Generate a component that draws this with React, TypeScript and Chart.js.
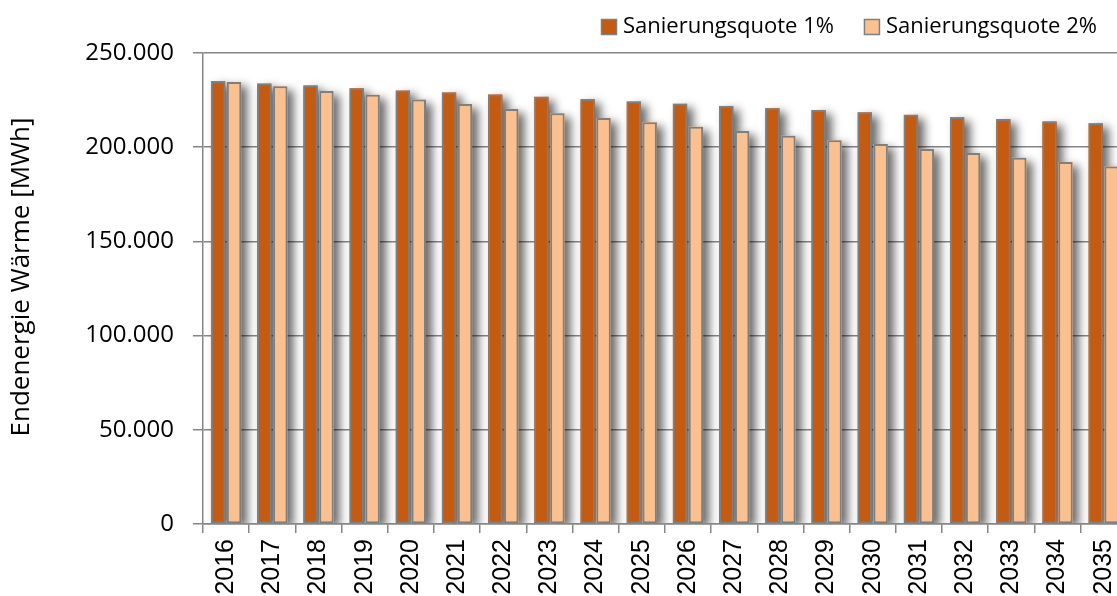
import React, { useEffect, useRef } from "react";
import { Chart, registerables } from "chart.js";

Chart.register(...registerables);

const years = ["2016","2017","2018","2019","2020","2021","2022","2023","2024","2025","2026","2027","2028","2029","2030","2031","2032","2033","2034","2035"];
const quote1 = [235100,233800,232800,231300,230100,229100,228000,226800,225500,224300,223100,221900,220700,219700,218500,217200,215900,214900,213700,212700];
const quote2 = [234600,232300,229800,227800,225300,222900,220300,218000,215500,213300,210900,208600,206100,203700,201700,199100,196900,194400,192100,189700];
const seriesLabels = ["Sanierungsquote 1%", "Sanierungsquote 2%"];
const seriesColors = ["#C55A11", "#FAC090"];
const yTicks = [0, 50000, 100000, 150000, 200000, 250000];
const yTitle = "Endenergie Wärme [MWh]";

const fmt = (v: number) => String(Math.round(v)).replace(/\B(?=(\d{3})+(?!\d))/g, ".");

const shadowPlugin = {
  id: "barShadow",
  afterDraw(chart: any) {},
  beforeDatasetsDraw(chart: any) {
    const ctx = chart.ctx;
    ctx.save();
    const area = chart.chartArea;
    ctx.beginPath();
    ctx.rect(area.left + 1, area.top - 20, area.right - area.left + 40, area.bottom - area.top + 19);
    ctx.clip();
    chart.data.datasets.forEach((ds: any, di: number) => {
      const meta = chart.getDatasetMeta(di);
      meta.data.forEach((bar: any) => {
        const p = bar.getProps(["x", "y", "base", "width"], true);
        ctx.save();
        ctx.shadowColor = "rgba(0,0,0,0.6)";
        ctx.shadowBlur = 10;
        ctx.shadowOffsetX = 6;
        ctx.shadowOffsetY = 4;
        ctx.fillStyle = ds.backgroundColor;
        ctx.fillRect(p.x - p.width / 2, p.y, p.width, p.base - p.y);
        ctx.restore();
      });
    });
    ctx.restore();
  },
};

const textPlugin = {
  id: "customText",
  afterDraw(chart: any) {
    const ctx = chart.ctx;
    ctx.save();
    // axis title
    ctx.font = "26px 'Open Sans'";
    ctx.fillStyle = "#000";
    ctx.textAlign = "center";
    ctx.textBaseline = "middle";
    ctx.translate(22, 277);
    ctx.rotate(-Math.PI / 2);
    ctx.fillText(yTitle, 0, 0);
    ctx.restore();

    // legend
    ctx.save();
    ctx.font = "22px 'Open Sans'";
    ctx.textBaseline = "middle";
    ctx.textAlign = "left";
    let x = 601;
    const cy = 27;
    const box = 15;
    chart.data.datasets.forEach((ds: any) => {
      ctx.fillStyle = ds.backgroundColor;
      ctx.fillRect(x + 0.5, cy - box / 2, box, box);
      ctx.strokeStyle = "#7f7f7f";
      ctx.lineWidth = 1.5;
      ctx.strokeRect(x + 0.5, cy - box / 2, box, box);
      ctx.fillStyle = "#000";
      const tx = x + box + 7;
      ctx.fillText(ds.label, tx, cy);
      x = tx + ctx.measureText(ds.label).width + 30;
    });
    ctx.restore();
  },
};

export default function App() {
  const ref = useRef<HTMLCanvasElement>(null);
  useEffect(() => {
    if (!ref.current) return;
    const chart = new Chart(ref.current, {
      type: "bar",
      data: {
        labels: years,
        datasets: [
          { label: seriesLabels[0], data: quote1, backgroundColor: seriesColors[0], borderColor: "#7f7f7f", borderWidth: 2, borderSkipped: false },
          { label: seriesLabels[1], data: quote2, backgroundColor: seriesColors[1], borderColor: "#7f7f7f", borderWidth: 2, borderSkipped: false },
        ],
      },
      options: {
        responsive: false,
        animation: false,
        devicePixelRatio: 1,
        layout: { padding: { top: 53, right: 13, left: 0, bottom: 0 } },
        datasets: { bar: { categoryPercentage: 0.69, barPercentage: 0.9 } },
        plugins: {
          legend: { display: false },
          tooltip: { enabled: false },
        },
        scales: {
          x: {
            grid: { drawOnChartArea: false, drawTicks: true, tickLength: 9, offset: true, color: "#868686", lineWidth: 1.5 },
            border: { color: "#868686", width: 1.5 },
            ticks: {
              autoSkip: false,
              maxRotation: 90,
              minRotation: 90,
              padding: 6,
              color: "#000",
              font: { family: "'Liberation Sans'", size: 25 },
            },
            afterFit: (s: any) => { s.height = 72; },
          },
          y: {
            min: 0,
            max: 250000,
            afterBuildTicks: (s: any) => { s.ticks = yTicks.map((v) => ({ value: v })); },
            grid: { color: "#868686", lineWidth: 1.5, tickLength: 10 },
            border: { color: "#868686", width: 1.5 },
            ticks: {
              padding: 19,
              color: "#000",
              font: { family: "'Open Sans'", size: 24 },
              callback: (v: any) => fmt(Number(v)),
            },
            afterFit: (s: any) => { s.width = 203; },
          },
        },
      },
      plugins: [shadowPlugin, textPlugin],
    });
    return () => chart.destroy();
  }, []);
  return (
    <div style={{ position: "fixed", left: 0, top: 0, width: 1117, height: 596, overflow: "hidden", background: "#fff" }}>
      <canvas ref={ref} width={1140} height={596} style={{ display: "block" }} />
    </div>
  );
}
